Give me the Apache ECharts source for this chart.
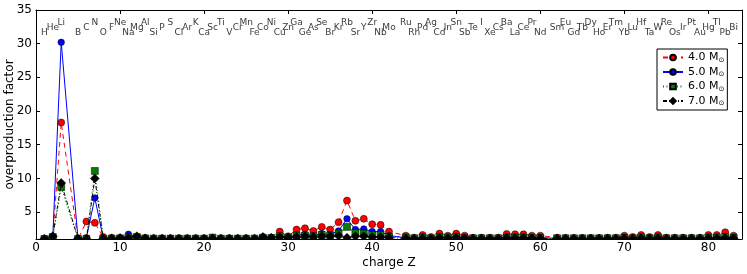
<!DOCTYPE html>
<html>
<head>
<meta charset="utf-8">
<script src="https://cdn.jsdelivr.net/npm/echarts@6/dist/echarts.min.js"></script>
<style>html,body{margin:0;padding:0;background:#fff}#c{width:747px;height:274px}</style>
</head>
<body>
<div id="c"></div>
<script>
// charge numbers Z (Be, Tc, Pm absent)
const zValues = [1,2,3,5,6,7,8,9,10,11,12,13,14,15,16,17,18,19,20,21,22,23,24,25,26,27,28,29,30,31,32,33,34,35,36,37,38,39,40,41,42,
  44,45,46,47,48,49,50,51,52,53,54,55,56,57,58,59,60,62,63,64,65,66,67,68,69,70,71,72,73,74,75,76,77,78,79,80,81,82,83];
const elements = ['H','He','Li','B','C','N','O','F','Ne','Na','Mg','Al','Si','P','S','Cl','Ar','K','Ca','Sc','Ti','V','Cr','Mn','Fe','Co','Ni','Cu','Zn','Ga','Ge','As','Se','Br','Kr','Rb','Sr','Y','Zr','Nb','Mo',
  'Ru','Rh','Pd','Ag','Cd','In','Sn','Sb','Te','I','Xe','Cs','Ba','La','Ce','Pr','Nd','Sm','Eu','Gd','Tb','Dy','Ho','Er','Tm','Yb','Lu','Hf','Ta','W','Re','Os','Ir','Pt','Au','Hg','Tl','Pb','Bi'];
// overproduction factors per series (same order as zValues)
const m40 = [1.0,1.3,18.3,1.0,3.6,3.4,1.3,1.2,1.1,1.2,1.2,1.1,1.1,1.1,1.1,1.1,1.1,1.1,1.1,1.15,1.1,1.1,1.1,1.1,1.1,1.2,1.2,2.1,1.4,2.4,2.6,2.2,2.8,2.4,3.5,6.7,3.7,4.0,3.2,3.1,2.1,
  1.5,1.2,1.6,1.3,1.8,1.5,1.8,1.5,1.2,1.2,1.2,1.2,1.75,1.7,1.7,1.5,1.5,1.2,1.15,1.15,1.15,1.15,1.15,1.2,1.2,1.5,1.3,1.6,1.3,1.6,1.2,1.2,1.2,1.2,1.2,1.6,1.6,2.0,1.5];
const m50 = [1.0,1.3,30.2,1.0,1.2,7.1,1.1,1.05,1.1,1.7,1.3,1.1,1.05,1.05,1.05,1.05,1.05,1.05,1.05,1.1,1.05,1.05,1.05,1.05,1.05,1.15,1.15,1.4,1.3,1.6,1.7,1.5,1.8,1.7,2.2,4.0,2.4,2.5,2.1,2.1,1.5,
  1.2,1.1,1.3,1.1,1.4,1.2,1.4,1.2,1.1,1.1,1.1,1.1,1.3,1.3,1.3,1.2,1.2,1.1,1.1,1.1,1.1,1.1,1.1,1.1,1.1,1.2,1.15,1.25,1.15,1.25,1.1,1.1,1.1,1.1,1.1,1.25,1.25,1.4,1.2];
const m60 = [1.0,1.3,8.7,1.0,1.0,11.1,1.05,1.05,1.1,1.25,1.3,1.1,1.05,1.05,1.05,1.05,1.05,1.05,1.05,1.2,1.05,1.05,1.05,1.05,1.05,1.2,1.15,1.4,1.2,1.5,1.5,1.4,1.6,1.5,1.8,2.8,1.9,1.8,1.6,1.6,1.3,
  1.2,1.1,1.2,1.1,1.3,1.2,1.3,1.1,1.1,1.1,1.1,1.1,1.2,1.2,1.2,1.15,1.15,1.1,1.1,1.1,1.1,1.1,1.1,1.1,1.1,1.15,1.1,1.2,1.1,1.2,1.1,1.1,1.1,1.1,1.1,1.2,1.2,1.3,1.15];
const m70 = [1.05,1.4,9.3,1.05,1.0,10.0,1.05,1.05,1.15,1.15,1.4,1.1,1.05,1.05,1.05,1.05,1.05,1.05,1.05,1.1,1.05,1.05,1.05,1.05,1.05,1.3,1.2,1.3,1.2,1.3,1.4,1.3,1.4,1.4,1.5,1.2,1.4,1.4,1.3,1.3,1.2,
  1.1,1.05,1.1,1.05,1.2,1.1,1.2,1.1,1.05,1.05,1.05,1.05,1.15,1.15,1.15,1.1,1.1,1.05,1.05,1.05,1.05,1.05,1.05,1.05,1.05,1.1,1.05,1.1,1.05,1.1,1.05,1.05,1.05,1.05,1.05,1.1,1.1,1.15,1.1];
const seriesNames = ['4.0', '5.0', '6.0', '7.0'];
const xTicks = [0,10,20,30,40,50,60,70,80];
const yTicks = [5,10,15,20,25,30,35];
const labelLevels = [31.7, 32.4, 33.15]; // staggered heights of element labels

const FONT = 'DejaVu Sans';
const W = 747, H = 274;
const GRID = {left: 36, right: 5, top: 10, bottom: 35};
const chart = echarts.init(document.getElementById('c'), null, {renderer: 'canvas'});

function pairs(vals) { return zValues.map((z, i) => [z, vals[i]]); }
const labelData = zValues.map((z, i) => [z, labelLevels[i % 3], elements[i]]);

const styles = [
  {data: m40, color: '#ff0000', symbol: 'circle', size: 7, line: [5, 4], lw: 1},
  {data: m50, color: '#0000ff', symbol: 'circle', size: 6.5, line: 'solid', lw: 1},
  {data: m60, color: '#007f00', symbol: 'rect', size: 7, line: [1, 2.5], lw: 1.2},
  {data: m70, color: '#000000', symbol: 'diamond', size: 9, line: [4, 2, 1, 2], lw: 1}
];

const series = styles.map((s, k) => ({
  name: seriesNames[k],
  type: 'line',
  data: pairs(s.data),
  symbol: s.symbol,
  symbolSize: s.size,
  showAllSymbol: true,
  clip: false,
  z: 2 + k * 0.1,
  lineStyle: {color: s.color, width: s.lw, type: s.line},
  itemStyle: {color: s.color, borderColor: '#000', borderWidth: 0.5},
  emphasis: {disabled: true},
  animation: false
}));

series.push({
  name: 'elements',
  type: 'scatter',
  data: labelData,
  symbolSize: 0,
  silent: true,
  z: 5,
  label: {
    show: true, position: 'inside',
    formatter: p => p.data[2],
    fontFamily: FONT, fontSize: 9, color: '#000'
  },
  animation: false
});

const axisCommon = {
  type: 'value',
  z: 6,
  splitLine: {show: false},
  axisLine: {show: true, onZero: false, lineStyle: {color: '#000', width: 1}},
};

chart.setOption({
  animation: false,
  backgroundColor: '#fff',
  textStyle: {fontFamily: FONT},
  grid: Object.assign({outerBoundsMode: 'none', containLabel: false}, GRID),
  // white mask below the plotting area so markers are clipped at the axis like the original
  graphic: [{
    type: 'rect', z: 4, silent: true,
    shape: {x: 0, y: H - GRID.bottom + 0.5, width: W, height: GRID.bottom},
    style: {fill: '#fff'}
  }],
  legend: {
    data: seriesNames,
    orient: 'vertical',
    left: 657, top: 49,
    itemWidth: 20, itemHeight: 7, itemGap: 3,
    padding: [3, 3, 3, 5],
    borderColor: '#000', borderWidth: 1, borderRadius: 0,
    backgroundColor: '#fff',
    formatter: n => n + ' M{sub|⊙}',
    textStyle: {fontFamily: FONT, fontSize: 11, color: '#000',
      rich: {sub: {fontSize: 7, verticalAlign: 'bottom', padding: [5, 0, 0, 0], fontFamily: FONT, color: '#000'}}}
  },
  xAxis: [
    Object.assign({}, axisCommon, {
      position: 'bottom', min: 0, max: 84,
      name: 'charge Z', nameLocation: 'middle', nameGap: 18, nameMoveOverlap: false,
      nameTextStyle: {fontFamily: FONT, fontSize: 12, color: '#000'},
      axisTick: {show: true, inside: true, length: 4, customValues: xTicks, lineStyle: {color: '#000'}},
      axisLabel: {show: true, customValues: xTicks, margin: 3, fontFamily: FONT, fontSize: 12, color: '#000'}
    }),
    Object.assign({}, axisCommon, {
      position: 'top', min: 0, max: 84,
      axisTick: {show: true, inside: true, length: 4, customValues: xTicks, lineStyle: {color: '#000'}},
      axisLabel: {show: false}
    })
  ],
  yAxis: [
    Object.assign({}, axisCommon, {
      position: 'left', min: 1, max: 35,
      name: 'overproduction factor', nameLocation: 'middle', nameGap: 20, nameMoveOverlap: false,
      nameTextStyle: {fontFamily: FONT, fontSize: 12, color: '#000'},
      axisTick: {show: true, inside: true, length: 4, customValues: yTicks, lineStyle: {color: '#000'}},
      axisLabel: {show: true, customValues: yTicks, margin: 4, fontFamily: FONT, fontSize: 12, color: '#000'}
    }),
    Object.assign({}, axisCommon, {
      position: 'right', min: 1, max: 35,
      axisTick: {show: true, inside: true, length: 4, customValues: yTicks, lineStyle: {color: '#000'}},
      axisLabel: {show: false}
    })
  ],
  series: series
});
</script>
</body>
</html>
